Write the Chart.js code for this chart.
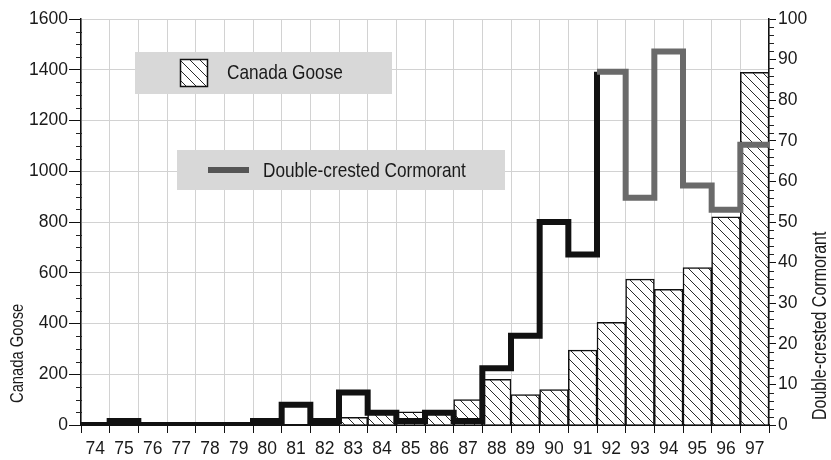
<!DOCTYPE html>
<html>
<head>
<meta charset="utf-8">
<script src="https://cdn.jsdelivr.net/npm/chart.js@4/dist/chart.umd.min.js"></script>
<style>
  html, body { margin: 0; padding: 0; background: #fff; }
  #wrap { width: 831px; height: 460px; }
</style>
</head>
<body>
<div id="wrap"><canvas id="c" width="831" height="460"></canvas></div>
<script>
// Survey years (19xx)
const years = ['74','75','76','77','78','79','80','81','82','83','84','85','86','87','88','89','90','91','92','93','94','95','96','97'];
// Canada Goose counts (left axis)
const gooseCounts = [0,0,0,0,0,0,0,0,0,30,50,52,45,100,180,120,140,295,405,575,535,620,820,1390];
// Double-crested Cormorant counts (right axis)
const cormorantCounts = [0,1,0,0,0,0,1,5,1,8,3,1,3,1,14,22,50,42,87,56,92,59,53,69];
// Axis ticks
const gooseTicks = { min: 0, max: 1600, step: 200, minor: 50 };
const cormorantTicks = { min: 0, max: 100, step: 10, minor: 2 };

const FONT = '"Liberation Sans", Arial, Helvetica, sans-serif';
const NARROW = 0.82; // horizontal squeeze for the condensed captions

// Diagonal hatch used for the goose bars
function makeHatch() {
  const t = document.createElement('canvas');
  t.width = 10; t.height = 10;
  const g = t.getContext('2d');
  g.fillStyle = '#fff';
  g.fillRect(0, 0, 10, 10);
  g.strokeStyle = '#2a2a2a';
  g.lineWidth = 1;
  g.beginPath();
  g.moveTo(-1, -1); g.lineTo(11, 11);
  g.moveTo(9, -1); g.lineTo(11, 1);
  g.moveTo(-1, 9); g.lineTo(1, 11);
  g.stroke();
  return g.createPattern(t, 'repeat');
}
const hatch = makeHatch();

// Histogram-style step outline: one point at the left edge of every year, plus the right edge of the last
const stepPoints = cormorantCounts.map((v, i) => ({ x: i - 0.5, y: v }));
stepPoints.push({ x: cormorantCounts.length - 0.5, y: cormorantCounts[cormorantCounts.length - 1] });

// Minor tick marks on both value axes
const minorTicks = {
  id: 'minorTicks',
  afterDraw(chart) {
    const ctx = chart.ctx;
    const y = chart.scales.y, y2 = chart.scales.y2;
    ctx.save();
    ctx.strokeStyle = '#222';
    ctx.lineWidth = 1;
    ctx.beginPath();
    for (let v = gooseTicks.min + gooseTicks.minor; v < gooseTicks.max; v += gooseTicks.minor) {
      if (v % gooseTicks.step === 0) continue;
      const p = Math.round(y.getPixelForValue(v)) + 0.5;
      ctx.moveTo(y.right - 5, p); ctx.lineTo(y.right + 1, p);
    }
    for (let v = cormorantTicks.min + cormorantTicks.minor; v < cormorantTicks.max; v += cormorantTicks.minor) {
      if (v % cormorantTicks.step === 0) continue;
      const p = Math.round(y2.getPixelForValue(v)) + 0.5;
      ctx.moveTo(y2.left - 1, p); ctx.lineTo(y2.left + 5, p);
    }
    ctx.stroke();
    ctx.restore();
  }
};

function condensedText(ctx, text, x, y, size, angle) {
  ctx.save();
  ctx.translate(x, y);
  if (angle) ctx.rotate(angle);
  ctx.scale(NARROW, 1);
  ctx.font = size + 'px ' + FONT;
  ctx.fillText(text, 0, 0);
  ctx.restore();
}

// Axis titles (both read bottom-to-top) and the two legend panels
const annotations = {
  id: 'annotations',
  afterDraw(chart) {
    const ctx = chart.ctx;
    ctx.save();
    ctx.textBaseline = 'middle';
    ctx.textAlign = 'left';
    ctx.fillStyle = '#1a1a1a';

    condensedText(ctx, 'Canada Goose', 18, 403, 18, -Math.PI / 2);
    condensedText(ctx, 'Double-crested Cormorant', 821, 420, 19.5, -Math.PI / 2);

    // Legend panel: Canada Goose
    ctx.fillStyle = '#d8d8d8';
    ctx.fillRect(135, 52, 257, 42);
    ctx.fillStyle = hatch;
    ctx.fillRect(180, 59, 28, 28);
    ctx.strokeStyle = '#111';
    ctx.lineWidth = 1.5;
    ctx.strokeRect(180.5, 59.5, 27, 27);
    ctx.fillStyle = '#1a1a1a';
    condensedText(ctx, 'Canada Goose', 227, 73, 21, 0);

    // Legend panel: Double-crested Cormorant
    ctx.fillStyle = '#d8d8d8';
    ctx.fillRect(177, 150, 328, 40);
    ctx.fillStyle = '#555';
    ctx.fillRect(208, 167, 41, 6);
    ctx.fillStyle = '#1a1a1a';
    condensedText(ctx, 'Double-crested Cormorant', 263, 171, 21, 0);
    ctx.restore();
  }
};

const tickFont = { family: FONT, size: 17.5 };
const plainNumber = v => String(v);

new Chart(document.getElementById('c'), {
  data: {
    labels: years,
    datasets: [
      {
        type: 'line',
        label: 'Double-crested Cormorant',
        data: stepPoints,
        xAxisID: 'xLine',
        yAxisID: 'y2',
        stepped: 'before',
        borderWidth: 6,
        borderJoinStyle: 'miter',
        borderCapStyle: 'butt',
        borderColor: '#111',
        segment: {
          borderColor: c => (c.p0DataIndex >= 18 ? '#6a6a6a' : '#111')
        },
        pointRadius: 0,
        fill: false,
        order: 0
      },
      {
        type: 'bar',
        label: 'Canada Goose',
        data: gooseCounts,
        xAxisID: 'x',
        yAxisID: 'y',
        backgroundColor: hatch,
        borderColor: '#111',
        borderWidth: 1.5,
        grouped: false,
        categoryPercentage: 1,
        barPercentage: 1,
        order: 1
      }
    ]
  },
  options: {
    responsive: false,
    animation: false,
    events: [],
    layout: { padding: { top: 19, left: 0, right: 0, bottom: 0 } },
    plugins: { legend: { display: false }, tooltip: { enabled: false }, title: { display: false } },
    scales: {
      x: {
        type: 'category',
        position: 'bottom',
        offset: true,
        grid: { offset: true, color: '#d2d2d2', lineWidth: 1, tickColor: '#111', tickLength: 8 },
        border: { color: '#111', width: 2 },
        ticks: { font: tickFont, color: '#1a1a1a', padding: 6, maxRotation: 0, autoSkip: false },
        afterFit: s => { s.height = 35; }
      },
      xLine: {
        type: 'linear',
        display: false,
        min: -0.5,
        max: years.length - 0.5
      },
      y: {
        position: 'left',
        min: gooseTicks.min,
        max: gooseTicks.max,
        ticks: { stepSize: gooseTicks.step, font: tickFont, color: '#1a1a1a', padding: 1, callback: plainNumber },
        grid: { color: '#d2d2d2', lineWidth: 1, tickColor: '#111', tickLength: 12 },
        border: { color: '#111', width: 1.5 },
        afterFit: s => { s.width = 81; }
      },
      y2: {
        position: 'right',
        min: cormorantTicks.min,
        max: cormorantTicks.max,
        ticks: { stepSize: cormorantTicks.step, font: tickFont, color: '#1a1a1a', padding: 2, callback: plainNumber },
        grid: { drawOnChartArea: false, tickColor: '#111', tickLength: 7 },
        border: { color: '#111', width: 1.5 },
        afterFit: s => { s.width = 62; }
      }
    }
  },
  plugins: [minorTicks, annotations]
});
</script>
</body>
</html>
